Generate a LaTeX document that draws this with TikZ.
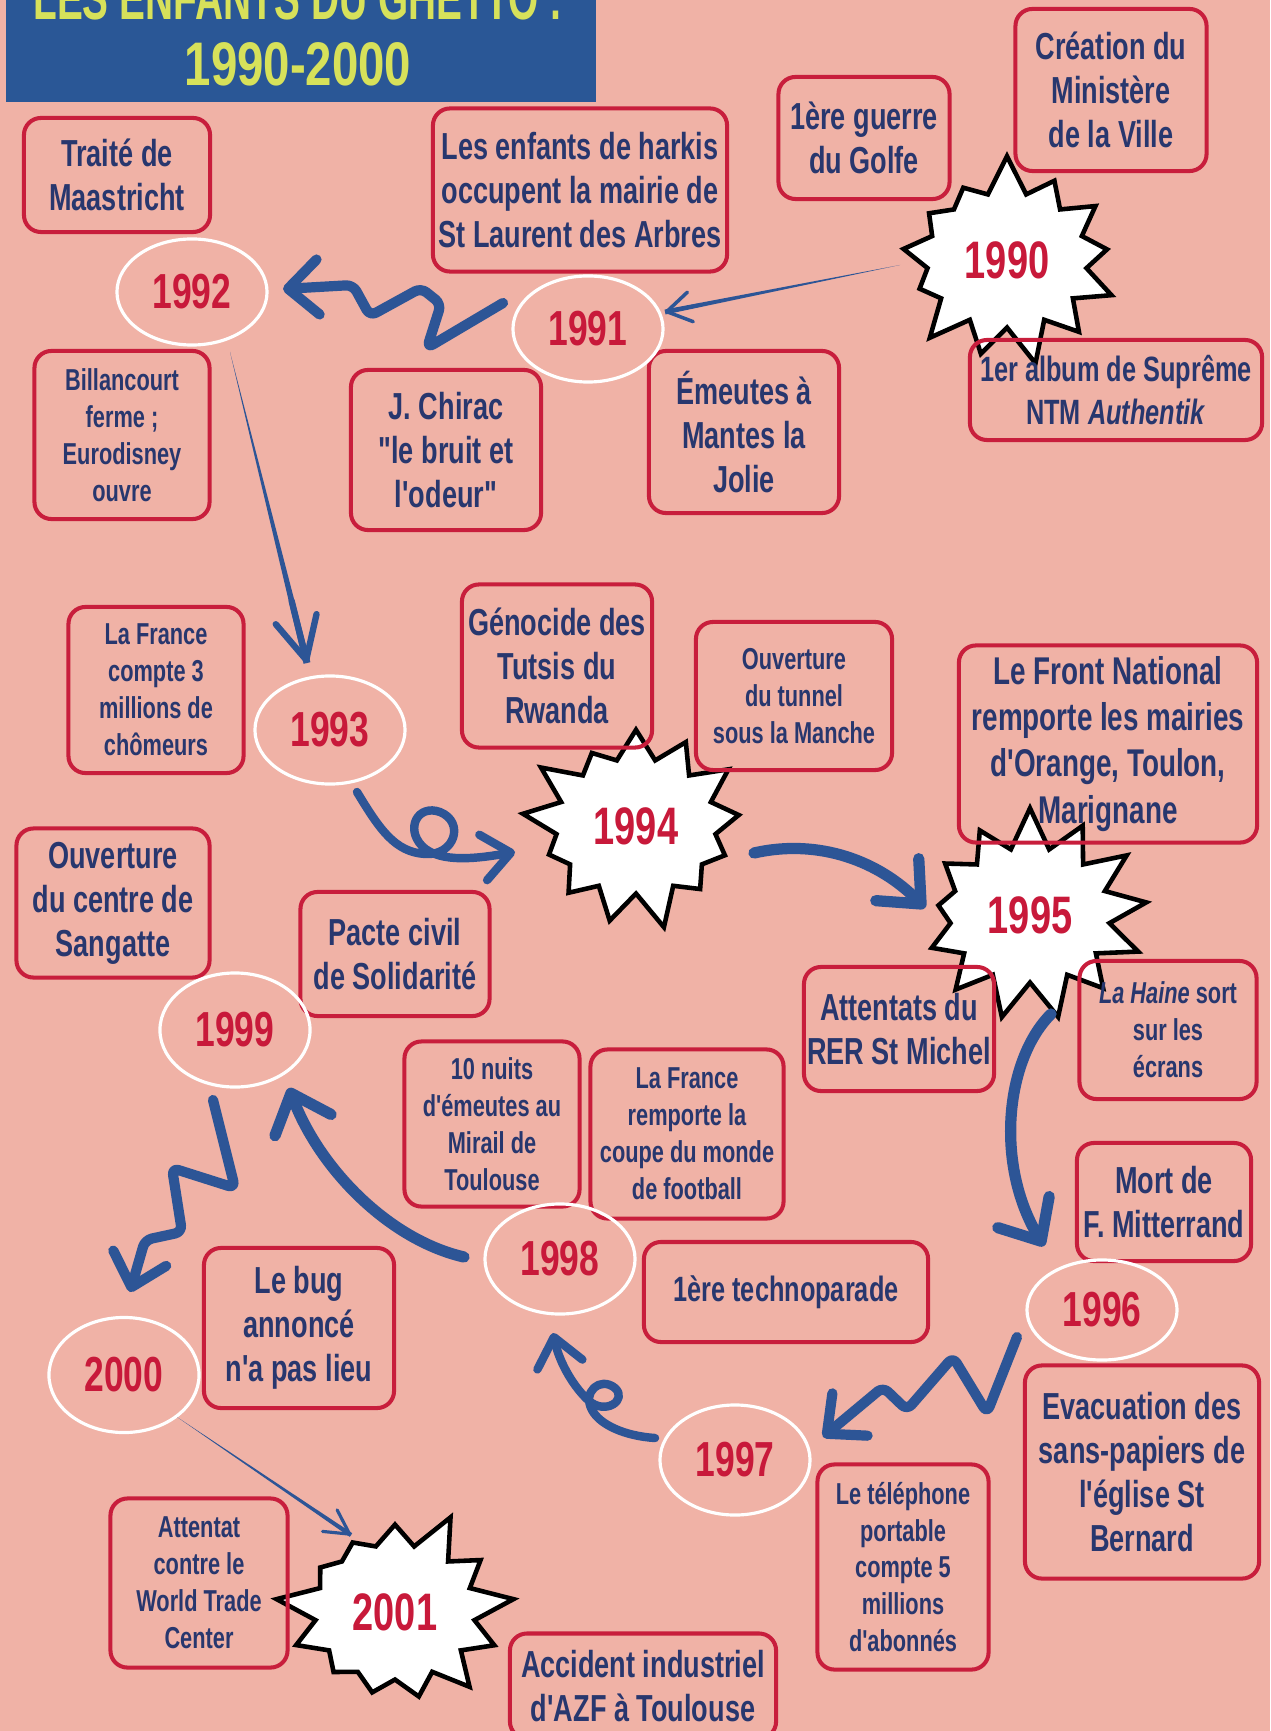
\documentclass[tikz,border=0pt]{standalone}
\usepackage{fontspec}
\newfontfamily\cnd{Liberation Sans Bold}[FakeStretch=0.72, ItalicFont={Liberation Sans Bold Italic}]
\newfontfamily\cndt{Liberation Sans Bold}[FakeStretch=0.77]
\newfontfamily\cndtt{Liberation Sans Bold}[FakeStretch=0.63]
\usetikzlibrary{shapes.geometric,shapes.symbols,arrows.meta,calc}
\definecolor{bgpink}{HTML}{F0B2A6}
\definecolor{boxred}{HTML}{C81E3C}
\definecolor{navy}{HTML}{28376E}
\definecolor{yearred}{HTML}{C8193A}
\definecolor{arrowblue}{HTML}{2D5596}
\definecolor{titleblue}{HTML}{2A5796}
\definecolor{titleyellow}{HTML}{D7E15A}
\begin{document}
\begin{tikzpicture}[x=0.01cm,y=-0.01cm,
  evbox/.style={draw=boxred, line width=1.15pt, rounded corners=0.17cm, align=center, text=navy, inner sep=0pt,
    font={\cnd\fontsize{10.7}{12.5}\selectfont}},
  evsmall/.style={evbox, font={\cnd\fontsize{8.6}{10.5}\selectfont}},
  yr/.style={ellipse, draw=white, line width=0.9pt, text=yearred, inner sep=0pt,
    font={\cnd\fontsize{14}{14}\selectfont}, minimum width=1.5cm, minimum height=1.06cm},
  burst/.style={starburst, fill=white, draw=black, line width=1.3pt, line join=miter, miter limit=5,
    text=yearred, inner sep=0pt, starburst points=13, starburst point height=0.4cm,
    font={\cnd\fontsize{15}{15}\selectfont}, minimum width=2.4cm, minimum height=2.15cm},
  flow/.style={draw=arrowblue, line width=2.9pt, line cap=round, line join=round,
    -{Straight Barb[round, length=3mm, width=5.5mm]}},
  loopflow/.style={flow, line width=2.4pt, -{Straight Barb[round, length=2.8mm, width=4.6mm]}},
  bigflow/.style={flow, line width=3.2pt, -{Straight Barb[round, length=3.4mm, width=6mm]}},
  taper/.style={fill=arrowblue},
]
\useasboundingbox (0,0) rectangle (1270,1731);
\clip (0,0) rectangle (1270,1731);
\fill[bgpink] (0,0) rectangle (1270,1731);

% title
\fill[titleblue] (6,-5) rectangle (596,102);
\node[anchor=base, text=titleyellow, inner sep=0pt, font={\cndtt\fontsize{17.5}{17.5}\selectfont}] (title1) at (298,20) {LES ENFANTS DU GHETTO :};
\node[anchor=base, text=titleyellow, inner sep=0pt, font={\cndt\fontsize{17.5}{17.5}\selectfont}] (title2) at (298,86) {1990-2000};

% starbursts (drawn first so box texts stay readable)
\node[burst, random starburst=7] (b1990) at (1007,260) {1990};
\node[burst, random starburst=21] (b1994) at (636,826) {1994};
\node[burst, random starburst=33] (b1995) at (1030,915) {1995};
\node[burst, random starburst=45] (b2001) at (395,1612) {2001};

% event boxes
\node[evbox, minimum width=1.86cm, minimum height=1.14cm] (trait) at (117,175) {Traité de\\Maastricht};
\node[evbox, minimum width=2.94cm, minimum height=1.63cm] (harkis) at (580,190) {Les enfants de harkis\\occupent la mairie de\\St Laurent des Arbres};
\node[evbox, minimum width=1.71cm, minimum height=1.22cm] (golfe) at (864,138) {1ère guerre\\du Golfe};
\node[evbox, minimum width=1.91cm, minimum height=1.62cm] (ministere) at (1111,90) {Création du\\Ministère\\de la Ville};
\node[evbox, font={\cnd\fontsize{10}{12.3}\selectfont}, minimum width=2.92cm, minimum height=1.0cm] (ntm) at (1116,390) {1er album de Suprême\\NTM \textit{Authentik}};
\node[evsmall, minimum width=1.75cm, minimum height=1.68cm] (billan) at (122,435) {Billancourt\\ferme ;\\Eurodisney\\ouvre};
\node[evbox, minimum width=1.90cm, minimum height=1.60cm] (chirac) at (446,450) {J. Chirac\\"le bruit et\\l'odeur"};
\node[evbox, minimum width=1.90cm, minimum height=1.62cm] (mantes) at (744,432) {Émeutes à\\Mantes la\\Jolie};
\node[evsmall, minimum width=1.75cm, minimum height=1.66cm] (chomeurs) at (156,690) {La France\\compte 3\\millions de\\chômeurs};
\node[evbox, minimum width=1.90cm, minimum height=1.63cm] (rwanda) at (557,666) {Génocide des\\Tutsis du\\Rwanda};
\node[evsmall, minimum width=1.96cm, minimum height=1.48cm] (tunnel) at (794,696) {Ouverture\\du tunnel\\sous la Manche};
\node[evbox, font={\cnd\fontsize{11}{13.1}\selectfont}, minimum width=2.98cm, minimum height=1.97cm] (fn) at (1108,744) {Le Front National\\remporte les mairies\\d'Orange, Toulon,\\Marignane};
\node[evbox, minimum width=1.93cm, minimum height=1.49cm] (sangatte) at (113,903) {Ouverture\\du centre de\\Sangatte};
\node[evbox, minimum width=1.89cm, minimum height=1.24cm] (pacs) at (395,954) {Pacte civil\\de Solidarité};
\node[evbox, minimum width=1.90cm, minimum height=1.24cm] (rer) at (899,1029) {Attentats du\\RER St Michel};
\node[evsmall, minimum width=1.77cm, minimum height=1.38cm] (haine) at (1168,1030) {\textit{La Haine} sort\\sur les\\écrans};
\node[evsmall, minimum width=1.75cm, minimum height=1.65cm] (mirail) at (492,1124) {10 nuits\\d'émeutes au\\Mirail de\\Toulouse};
\node[evsmall, minimum width=1.93cm, minimum height=1.69cm] (coupe) at (687,1134) {La France\\remporte la\\coupe du monde\\de football};
\node[evbox, minimum width=1.74cm, minimum height=1.18cm] (mitterrand) at (1164,1202) {Mort de\\F. Mitterrand};
\node[evbox, font={\cnd\fontsize{10}{12}\selectfont}, minimum width=2.84cm, minimum height=1.0cm] (techno) at (786,1292) {1ère technoparade};
\node[evbox, minimum width=1.90cm, minimum height=1.60cm] (bug) at (299,1328) {Le bug\\annoncé\\n'a pas lieu};
\node[evbox, minimum width=2.34cm, minimum height=2.13cm] (evac) at (1142,1472) {Evacuation des\\sans-papiers de\\l'église St\\Bernard};
\node[evsmall, minimum width=1.71cm, minimum height=2.05cm] (tel) at (903,1567) {Le téléphone\\portable\\compte 5\\millions\\d'abonnés};
\node[evsmall, minimum width=1.77cm, minimum height=1.69cm] (wtc) at (199,1583) {Attentat\\contre le\\World Trade\\Center};
\node[evbox, minimum width=2.66cm, minimum height=1.05cm] (azf) at (643,1686) {Accident industriel\\d'AZF à Toulouse};

% year ellipses
\node[yr] (y1991) at (588,329) {1991};
\node[yr] (y1992) at (192,292) {1992};
\node[yr, minimum height=1.08cm] (y1993) at (330,730) {1993};
\node[yr, minimum height=1.14cm] (y1999) at (235,1030) {1999};
\node[yr, minimum height=1.1cm] (y1998) at (560,1259) {1998};
\node[yr, minimum height=1.0cm] (y1996) at (1102,1310) {1996};
\node[yr, minimum height=1.15cm] (y2000) at (124,1375) {2000};
\node[yr, minimum height=1.1cm] (y1997) at (735,1460) {1997};

% 1990 -> 1991 (tapered line)
\coordinate (a0) at ($(b1990.center)+(-107,5)$);
\coordinate (a1) at ($(y1991.center)+(77,-17)$);
\fill[taper] (a0) -- ($(a1)!0.025cm!90:(a0)$) -- ($(a1)!0.025cm!-90:(a0)$) -- cycle;
\draw[draw=arrowblue, line width=1pt, line cap=round, -{Straight Barb[round, length=2.4mm, width=3mm]}] ($(a1)!0.15!(a0)$) -- (a1);

% 1991 -> 1992 zigzag
\draw[flow, rounded corners=0.07cm] ($(y1991.center)+(-85,-26)$) -- (427,348) -- (441,304) -- (421,288) -- (370,316) -- (353,285) -- ($(y1992.center)+(91,-3)$);

% 1992 -> 1993 (tapered line)
\coordinate (c0) at ($(y1992.center)+(38,60)$);
\coordinate (c1) at ($(y1993.center)+(-23,-67)$);
\fill[taper] (c0) -- ($(c1)!0.035cm!90:(c0)$) -- ($(c1)!0.035cm!-90:(c0)$) -- cycle;
\draw[draw=arrowblue, line width=1.8pt, line cap=round, -{Straight Barb[round, length=4.2mm, width=4.2mm]}] ($(c1)!0.2!(c0)$) -- (c1);

% 1993 -> 1994 loop
\draw[loopflow] ($(y1993.center)+(27,62)$) .. controls (380,830) and (395,852) .. (425,854)
   .. controls (455,856) and (465,822) .. (440,812)
   .. controls (418,804) and (405,828) .. (422,846)
   .. controls (440,864) and (480,858) .. ($(b1994.center)+(-121,26)$);

% 1994 -> 1995 curve
\draw[bigflow] ($(b1994.center)+(118,27)$) .. controls (820,838) and (880,862) .. ($(b1995.center)+(-105,-7)$);

% 1995 -> 1996 curve
\draw[bigflow] ($(b1995.center)+(21,99)$) .. controls (1005,1060) and (995,1165) .. ($(y1996.center)+(-58,-64)$);

% 1996 -> 1997 zigzag
\draw[flow, rounded corners=0.07cm] ($(y1996.center)+(-85,27)$) -- (987,1413) -- (953,1357) -- (907,1410) -- (883,1387) -- ($(y1997.center)+(88,-23)$);

% 1997 -> 1998 loop
\draw[loopflow] ($(y1997.center)+(-80,-22)$) .. controls (625,1436) and (600,1425) .. (592,1410)
   .. controls (582,1392) and (600,1376) .. (615,1388)
   .. controls (628,1400) and (605,1416) .. (588,1400)
   .. controls (575,1388) and (560,1365) .. ($(y1998.center)+(-7,74)$);

% 1998 -> 1999 curve
\draw[bigflow] ($(y1998.center)+(-96,-2)$) .. controls (390,1240) and (320,1170) .. ($(y1999.center)+(54,58)$);

% 1999 -> 2000 zigzag
\draw[flow, rounded corners=0.07cm] ($(y1999.center)+(-22,70)$) -- (235,1188) -- (172,1168) -- (182,1232) -- (145,1240) -- ($(y2000.center)+(6,-83)$);

% 2000 -> 2001 (tapered line)
\coordinate (e0) at ($(y2000.center)+(53,42)$);
\coordinate (e1) at ($(b2001.center)+(-44,-77)$);
\fill[taper] (e0) -- ($(e1)!0.022cm!90:(e0)$) -- ($(e1)!0.022cm!-90:(e0)$) -- cycle;
\draw[draw=arrowblue, line width=0.9pt, line cap=round, -{Straight Barb[round, length=2.4mm, width=2.6mm]}] ($(e1)!0.15!(e0)$) -- (e1);
\end{tikzpicture}
\end{document}
